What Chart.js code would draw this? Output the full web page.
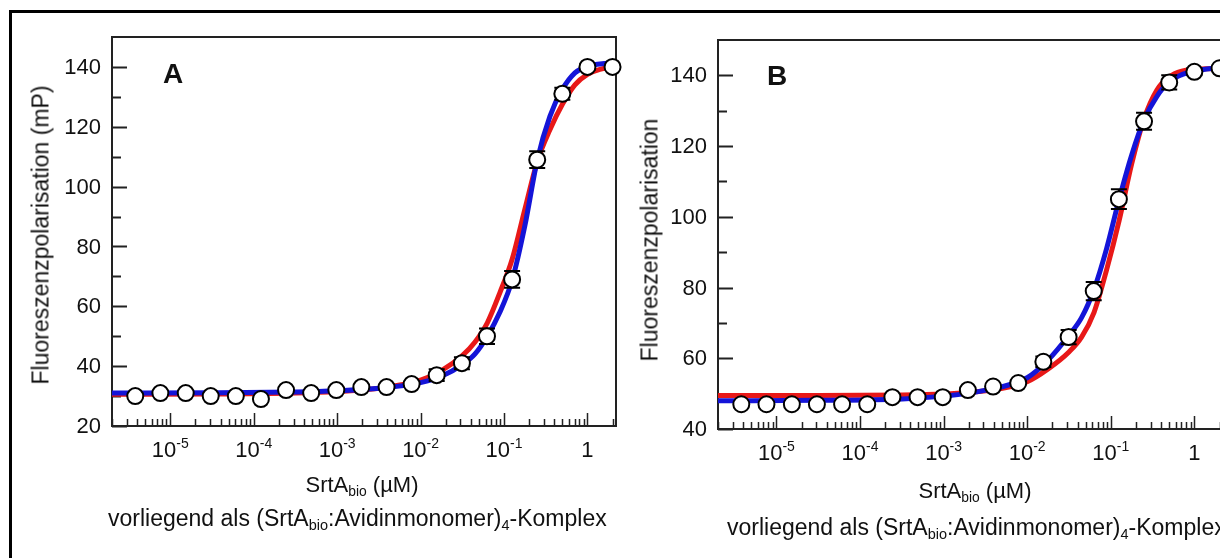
<!DOCTYPE html>
<html>
<head>
<meta charset="utf-8">
<script src="https://cdn.jsdelivr.net/npm/chart.js@4.4.1/dist/chart.umd.min.js"></script>
<style>
  html, body { margin: 0; padding: 0; background: #fff; }
  body { width: 1220px; height: 558px; position: relative; overflow: hidden; font-family: "Liberation Sans", Arial, sans-serif; color: #111; }
  .frame { position: absolute; left: 9px; top: 10px; width: 1400px; height: 700px; border-left: 3px solid #000; border-top: 3px solid #000; }
  canvas { position: absolute; top: 0; }
  #chartA { left: 0; }
  #chartB { left: 620px; }
  .txt { position: absolute; white-space: nowrap; line-height: 1; }
  .xt { font-size: 22px; transform: translateX(-50%); }
  .cap { font-size: 23px; }
  .yt { font-size: 23px; transform: translate(-50%, -50%) rotate(-90deg); }
  .letter { font-size: 28px; font-weight: bold; }
  sub { font-size: 0.63em; vertical-align: -0.3em; line-height: 0; }
</style>
</head>
<body>
<div class="frame"></div>
<canvas id="chartA" width="640" height="558"></canvas>
<canvas id="chartB" width="640" height="558"></canvas>

<div class="txt letter" style="left:163px; top:60px">A</div>
<div class="txt letter" style="left:767px; top:62px">B</div>

<div class="txt yt" style="left:41px; top:235px">Fluoreszenzpolarisation (mP)</div>
<div class="txt yt" style="left:650px; top:240px">Fluoreszenzpolarisation</div>

<div class="txt xt" style="left:362px; top:474px">SrtA<sub>bio</sub> (µM)</div>
<div class="txt xt" style="left:975px; top:480px">SrtA<sub>bio</sub> (µM)</div>

<div class="txt cap" style="left:108px; top:507px">vorliegend als (SrtA<sub>bio</sub>:Avidinmonomer)<sub>4</sub>-Komplex</div>
<div class="txt cap" style="left:727px; top:516px">vorliegend als (SrtA<sub>bio</sub>:Avidinmonomer)<sub>4</sub>-Komplex</div>

<script>
// SrtA concentrations (µM), 1:2 dilution series, same for both panels
const conc = [3.8e-6, 7.6e-6, 1.53e-5, 3.05e-5, 6.1e-5, 1.22e-4, 2.44e-4, 4.88e-4, 9.77e-4, 1.95e-3,
              3.91e-3, 7.81e-3, 0.0156, 0.0313, 0.0625, 0.125, 0.25, 0.5, 1, 2];

// panel A measured polarisation (mP) and error
const polA = [30, 31, 31, 30, 30, 29, 32, 31, 32, 33, 33, 34, 37, 41, 50, 69, 109, 131, 140, 140];
const errA = [0.5, 0.5, 0.5, 0.5, 0.5, 0.5, 0.5, 0.5, 0.5, 0.5, 0.5, 0.5, 2, 2, 2.6, 2.8, 2.8, 2, 1, 0.5];

// panel B
const polB = [47, 47, 47, 47, 47, 47, 49, 49, 49, 51, 52, 53, 59, 66, 79, 105, 127, 138, 141, 142];
const errB = [0.5, 0.5, 0.5, 0.5, 0.5, 0.5, 0.5, 0.5, 0.5, 0.5, 0.5, 0.5, 1.5, 2, 2.6, 2.8, 2.4, 2, 1, 0.5];

// fit curves at these concentrations
const fitConc = [2e-6, 3.2e-5, 3.2e-4, 1e-3, 3.2e-3, 0.01, 0.0178, 0.0316, 0.0447, 0.0631,
                 0.0891, 0.126, 0.178, 0.251, 0.355, 0.501, 0.708, 1, 1.41, 2.2];
const blueA = [31, 31.1, 31.4, 31.8, 32.6, 34.5, 36.6, 40.5, 44, 50, 58, 69, 87, 109, 123.5, 132.5, 138, 140.3, 141, 141.3];
const redA  = [30.6, 30.7, 31, 31.5, 32.6, 35.3, 38.5, 43.5, 48, 54.5, 64.5, 76, 92.5, 108.5, 119, 127.5, 134, 137.5, 139.2, 140];
const blueB = [48, 48.1, 48.5, 49.3, 51, 54.5, 59.5, 66.5, 71.5, 79.5, 91, 105, 117.5, 127.5, 134, 138.2, 140.2, 141.2, 141.8, 142.2];
const redB  = [49.5, 49.5, 49.6, 49.9, 50.8, 53.4, 57, 61.8, 66, 73, 85, 99, 115, 127.8, 135.8, 139.6, 141.2, 141.7, 141.9, 142];

// tick labels
const xDecades = [1e-5, 1e-4, 1e-3, 1e-2, 1e-1, 1];
const xExp = ['-5', '-4', '-3', '-2', '-1', ''];
const yMajorA = [20, 40, 60, 80, 100, 120, 140];
const yMinorA = [30, 50, 70, 90, 110, 130];
const yMajorB = [40, 60, 80, 100, 120, 140];
const yMinorB = [50, 70, 90, 110, 130];

const FONT = '"Liberation Sans", Arial, sans-serif';

const axisPlugin = {
    id: 'axisPlugin',
    beforeDatasetsDraw(chart, args, opts) {
        const { ctx, chartArea: a, scales: { x, y } } = chart;
        ctx.save();
        ctx.strokeStyle = '#222';
        ctx.lineWidth = 2;
        ctx.strokeRect(a.left, a.top, a.right - a.left, a.bottom - a.top);

        ctx.beginPath();
        opts.yMajor.forEach(v => {
            const py = Math.round(y.getPixelForValue(v)) + 0.5;
            ctx.moveTo(a.left, py); ctx.lineTo(a.left + 15, py);
        });
        opts.yMinor.forEach(v => {
            const py = Math.round(y.getPixelForValue(v)) + 0.5;
            ctx.moveTo(a.left, py); ctx.lineTo(a.left + 9, py);
        });
        ctx.stroke();

        // log ticks on the bottom axis, pointing inward
        ctx.lineWidth = 1.5;
        ctx.beginPath();
        for (let e = -6; e <= 0; e++) {
            for (let k = 1; k <= 9; k++) {
                const v = k * Math.pow(10, e);
                if (v < x.min || v > x.max) continue;
                const px = Math.round(x.getPixelForValue(v)) + 0.5;
                ctx.moveTo(px, a.bottom);
                ctx.lineTo(px, a.bottom - (k === 1 ? 13 : 7));
            }
        }
        ctx.stroke();

        ctx.fillStyle = '#111';
        ctx.font = '22px ' + FONT;
        ctx.textAlign = 'right';
        ctx.textBaseline = 'middle';
        opts.yMajor.forEach(v => {
            ctx.fillText(String(v), a.left - 11, y.getPixelForValue(v) + 1);
        });

        ctx.textAlign = 'left';
        ctx.textBaseline = 'alphabetic';
        xDecades.forEach((v, i) => {
            const base = xExp[i] ? '10' : '1';
            ctx.font = '22px ' + FONT;
            const wb = ctx.measureText(base).width;
            ctx.font = '14px ' + FONT;
            const we = xExp[i] ? ctx.measureText(xExp[i]).width : 0;
            const left = x.getPixelForValue(v) - (wb + we) / 2;
            ctx.font = '22px ' + FONT;
            ctx.fillText(base, left, a.bottom + 31);
            if (xExp[i]) {
                ctx.font = '14px ' + FONT;
                ctx.fillText(xExp[i], left + wb, a.bottom + 22);
            }
        });
        ctx.restore();
    },
    beforeDatasetDraw(chart, args, opts) {
        if (args.index !== 0) return;
        const { ctx, scales: { x, y } } = chart;
        ctx.save();
        ctx.strokeStyle = '#000';
        ctx.lineWidth = 2;
        ctx.beginPath();
        opts.err.forEach((e, i) => {
            const px = x.getPixelForValue(conc[i]);
            const hi = y.getPixelForValue(opts.vals[i] + e);
            const lo = y.getPixelForValue(opts.vals[i] - e);
            ctx.moveTo(px, hi); ctx.lineTo(px, lo);
            ctx.moveTo(px - 8, hi); ctx.lineTo(px + 8, hi);
            ctx.moveTo(px - 8, lo); ctx.lineTo(px + 8, lo);
        });
        ctx.stroke();
        ctx.restore();
    }
};

function makeChart(id, vals, err, blue, red, yMin, yMajor, yMinor, pad) {
    const pts = conc.map((c, i) => ({ x: c, y: vals[i] }));
    const fit = arr => fitConc.map((c, i) => ({ x: c, y: arr[i] }));
    return new Chart(document.getElementById(id), {
        type: 'scatter',
        data: {
            datasets: [
                {
                    data: pts,
                    pointRadius: 8,
                    pointBackgroundColor: '#fff',
                    pointBorderColor: '#000',
                    pointBorderWidth: 2,
                    clip: false
                },
                {
                    data: fit(blue),
                    showLine: true,
                    borderColor: '#1414d8',
                    borderWidth: 5,
                    pointRadius: 0,
                    cubicInterpolationMode: 'monotone'
                },
                {
                    data: fit(red),
                    showLine: true,
                    borderColor: '#e81818',
                    borderWidth: 5,
                    pointRadius: 0,
                    cubicInterpolationMode: 'monotone'
                }
            ]
        },
        options: {
            responsive: false,
            animation: false,
            events: [],
            layout: { padding: pad },
            scales: {
                x: { type: 'logarithmic', min: 2e-6, max: 2.2, display: false },
                y: { type: 'linear', min: yMin, max: 150, display: false }
            },
            plugins: {
                legend: { display: false },
                tooltip: { enabled: false },
                axisPlugin: { yMajor, yMinor, vals, err }
            }
        },
        plugins: [axisPlugin]
    });
}

makeChart('chartA', polA, errA, blueA, redA, 20, yMajorA, yMinorA,
    { left: 112, top: 37, right: 24, bottom: 132 });
makeChart('chartB', polB, errB, blueB, redB, 40, yMajorB, yMinorB,
    { left: 98, top: 40, right: 37, bottom: 129 });
</script>
</body>
</html>
